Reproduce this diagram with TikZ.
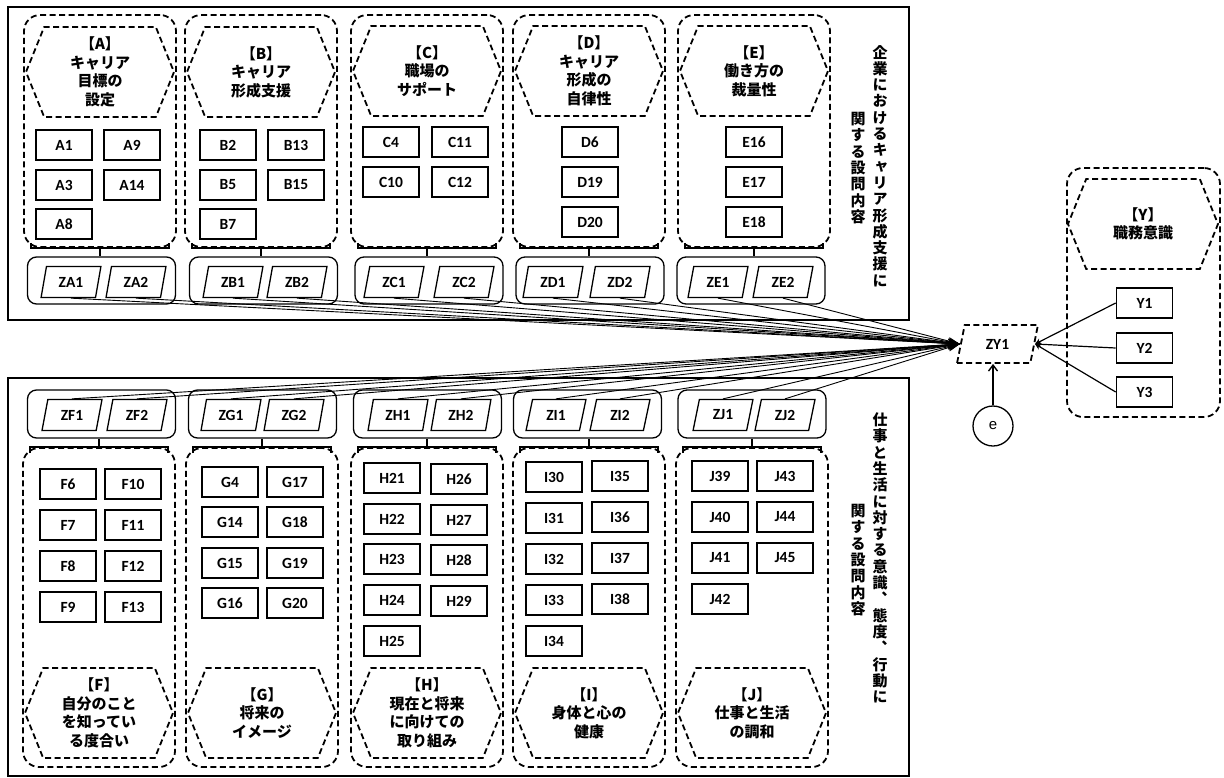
\documentclass[tikz,border=0pt]{standalone}
\usepackage{fontspec}
\setmainfont{Carlito}
\newfontfamily\jp{Noto Sans CJK JP}
\newfontfamily\jpv{Noto Sans CJK JP}[RawFeature=+vert]
\newfontfamily\arl{Liberation Sans}
\usetikzlibrary{arrows.meta,shapes.geometric,shapes.symbols}
\tikzset{
  dsh/.style={line width=1.8pt, dash pattern=on 6pt off 3.5pt},
  frm/.style={line width=1.4pt},
  grp/.style={draw, dsh, rounded corners=16pt, minimum width=152pt, inner sep=0pt},
  hexl/.style={draw, dsh, signal, signal to=east and west, signal pointer angle=136,
      minimum width=148pt, minimum height=90pt, inner sep=0pt, align=center,
      font=\jp\bfseries\fontsize{15}{18.5}\selectfont},
  itm/.style={draw, line width=1.6pt, minimum width=56pt, minimum height=30pt,
      inner sep=0pt, font=\bfseries\fontsize{15.5}{18}\selectfont},
  zbx/.style={draw, line width=1.3pt, rounded corners=9pt, minimum width=148pt, inner sep=0pt},
  zpr/.style={draw, line width=1.3pt, trapezium, trapezium left angle=75,
      trapezium right angle=105, trapezium stretches=true, minimum width=60pt,
      minimum height=31pt, inner sep=0pt, font=\bfseries\fontsize{15.5}{18}\selectfont},
  brk/.style={line width=2.6pt},
  vtx/.style={align=center, inner sep=0pt, font=\jpv\bfseries\fontsize{15}{16.3}\selectfont},
  zarr/.style={-{Stealth[length=12pt,width=8pt]}, line width=0.9pt},
  yarr/.style={-{Stealth[length=6pt,width=6pt]}, line width=1.2pt},
  earr/.style={-{Straight Barb[length=6pt,width=9pt]}, line width=1.4pt},
}

\begin{document}
\begin{tikzpicture}[x=1pt, y=-1pt]
  \useasboundingbox (0,0) rectangle (1224,777);
  \draw[frm] (8,7) rectangle (909,320);
  \draw[frm] (8,378) rectangle (909,776);

  % upper block
  \node[grp, minimum height=232pt] (gA) at (100,131) {};
  \node[hexl] (hA) at (100,72) {【A】\\キャリア\\目標の\\設定};
  \node[itm] (A1) at (64,145) {A1}; \node[itm] (A9) at (132,145) {A9};
  \node[itm] (A3) at (64,185) {A3}; \node[itm] (A14) at (132,185) {A14};
  \node[itm] (A8) at (64,224) {A8};

  \node[grp, minimum height=232pt] (gB) at (261,131) {};
  \node[hexl] (hB) at (261,72) {【B】\\キャリア\\形成支援};
  \node[itm] (B2) at (228,145) {B2}; \node[itm] (B13) at (296,145) {B13};
  \node[itm] (B5) at (228,185) {B5}; \node[itm] (B15) at (296,185) {B15};
  \node[itm] (B7) at (228,224) {B7};

  \node[grp, minimum height=232pt] (gC) at (427,131) {};
  \node[hexl] (hC) at (427,71) {【C】\\職場の\\サポート};
  \node[itm] (C4) at (391,142) {C4}; \node[itm] (C11) at (460,142) {C11};
  \node[itm] (C10) at (391,182) {C10}; \node[itm] (C12) at (460,182) {C12};

  \node[grp, minimum height=232pt] (gD) at (589,131) {};
  \node[hexl] (hD) at (589,71) {【D】\\キャリア\\形成の\\自律性};
  \node[itm] (D6) at (590,142) {D6};
  \node[itm] (D19) at (590,182) {D19};
  \node[itm] (D20) at (590,222) {D20};

  \node[grp, minimum height=232pt] (gE) at (754,131) {};
  \node[hexl] (hE) at (754,71) {【E】\\働き方の\\裁量性};
  \node[itm] (E16) at (754,142) {E16};
  \node[itm] (E17) at (754,182) {E17};
  \node[itm] (E18) at (754,222) {E18};

  \node[zbx, minimum height=47pt] (zA) at (101.5,280.5) {};
  \node[zpr] (ZA1) at (71,282) {ZA1}; \node[zpr] (ZA2) at (136,282) {ZA2};
  \node[zbx, minimum height=47pt] (zB) at (263.5,280.5) {};
  \node[zpr] (ZB1) at (233,282) {ZB1}; \node[zpr] (ZB2) at (297,282) {ZB2};
  \node[zbx, minimum height=47pt] (zC) at (429,280.5) {};
  \node[zpr] (ZC1) at (394,282) {ZC1}; \node[zpr] (ZC2) at (464,282) {ZC2};
  \node[zbx, minimum height=47pt] (zD) at (590,280.5) {};
  \node[zpr] (ZD1) at (553,282) {ZD1}; \node[zpr] (ZD2) at (620,282) {ZD2};
  \node[zbx, minimum height=47pt] (zE) at (751,280.5) {};
  \node[zpr] (ZE1) at (718,282) {ZE1}; \node[zpr] (ZE2) at (783,282) {ZE2};

  \node[vtx] (vt1) at (880,166) {企\\業\\に\\お\\け\\る\\キ\\ャ\\リ\\ア\\形\\成\\支\\援\\に};
  \node[vtx] (vt2) at (858,168) {関\\す\\る\\設\\問\\内\\容};

  % lower block
  \node[zbx, minimum height=48pt] (zF) at (101.5,414) {};
  \node[zpr] (ZF1) at (72,415) {ZF1}; \node[zpr] (ZF2) at (137,415) {ZF2};
  \node[zbx, minimum height=48pt] (zG) at (262.5,414) {};
  \node[zpr] (ZG1) at (231,415) {ZG1}; \node[zpr] (ZG2) at (294,415) {ZG2};
  \node[zbx, minimum height=48pt] (zH) at (427.5,414) {};
  \node[zpr] (ZH1) at (398,415) {ZH1}; \node[zpr] (ZH2) at (461,415) {ZH2};
  \node[zbx, minimum height=48pt] (zI) at (587.5,414) {};
  \node[zpr] (ZI1) at (556,415) {ZI1}; \node[zpr] (ZI2) at (620,415) {ZI2};
  \node[zbx, minimum height=48pt] (zJ) at (752,414) {};
  \node[zpr] (ZJ1) at (723,415) {ZJ1}; \node[zpr] (ZJ2) at (785,415) {ZJ2};

  \node[grp, minimum height=319pt] (gF) at (99,607.5) {};
  \node[itm] (F6) at (68,484) {F6}; \node[itm] (F10) at (133,484) {F10};
  \node[itm] (F7) at (68,525) {F7}; \node[itm] (F11) at (133,525) {F11};
  \node[itm] (F8) at (68,566) {F8}; \node[itm] (F12) at (133,566) {F12};
  \node[itm] (F9) at (68,607) {F9}; \node[itm] (F13) at (133,607) {F13};
  \node[hexl] (hF) at (99,713) {【F】\\自分のこと\\を知ってい\\る度合い};

  \node[grp, minimum height=319pt] (gG) at (262,607.5) {};
  \node[itm] (G4) at (230,482) {G4}; \node[itm] (G17) at (295,482) {G17};
  \node[itm] (G14) at (230,522) {G14}; \node[itm] (G18) at (295,522) {G18};
  \node[itm] (G15) at (230,563) {G15}; \node[itm] (G19) at (295,563) {G19};
  \node[itm] (G16) at (230,603) {G16}; \node[itm] (G20) at (295,603) {G20};
  \node[hexl] (hG) at (262,713) {【G】\\将来の\\イメージ};

  \node[grp, minimum height=319pt] (gH) at (427,607.5) {};
  \node[itm] (H21) at (392,478) {H21}; \node[itm] (H26) at (459,479) {H26};
  \node[itm] (H22) at (392,519) {H22}; \node[itm] (H27) at (459,520) {H27};
  \node[itm] (H23) at (392,559) {H23}; \node[itm] (H28) at (459,560) {H28};
  \node[itm] (H24) at (392,600) {H24}; \node[itm] (H29) at (459,601) {H29};
  \node[itm] (H25) at (392,641) {H25};
  \node[hexl] (hH) at (427,713) {【H】\\現在と将来\\に向けての\\取り組み};

  \node[grp, minimum height=319pt] (gI) at (589,607.5) {};
  \node[itm] (I30) at (554,477) {I30}; \node[itm] (I35) at (620,476) {I35};
  \node[itm] (I31) at (554,518) {I31}; \node[itm] (I36) at (620,517) {I36};
  \node[itm] (I32) at (554,559) {I32}; \node[itm] (I37) at (620,558) {I37};
  \node[itm] (I33) at (554,600) {I33}; \node[itm] (I38) at (620,599) {I38};
  \node[itm] (I34) at (554,641) {I34};
  \node[hexl] (hI) at (589,713) {【I】\\身体と心の\\健康};

  \node[grp, minimum height=319pt] (gJ) at (752,607.5) {};
  \node[itm] (J39) at (720,476) {J39}; \node[itm] (J43) at (785,476) {J43};
  \node[itm] (J40) at (720,517) {J40}; \node[itm] (J44) at (785,517) {J44};
  \node[itm] (J41) at (720,558) {J41}; \node[itm] (J45) at (785,558) {J45};
  \node[itm] (J42) at (720,599) {J42};
  \node[hexl] (hJ) at (752,713) {【J】\\仕事と生活\\の調和};

  \node[vtx] (vb1) at (880,558) {仕\\事\\と\\生\\活\\に\\対\\す\\る\\意\\識\\、\\態\\度\\、\\行\\動\\に};
  \node[vtx] (vb2) at (858,560) {関\\す\\る\\設\\問\\内\\容};

  % brackets from groups to their Z boxes
  \draw[brk] ([xshift=8pt,yshift=5pt]gA.south west) -- ([xshift=8pt]gA.south west) -- ([xshift=-8pt]gA.south east) -- ([xshift=-8pt,yshift=5pt]gA.south east);
  \draw[brk] ([xshift=8pt,yshift=5pt]gB.south west) -- ([xshift=8pt]gB.south west) -- ([xshift=-8pt]gB.south east) -- ([xshift=-8pt,yshift=5pt]gB.south east);
  \draw[brk] ([xshift=8pt,yshift=5pt]gC.south west) -- ([xshift=8pt]gC.south west) -- ([xshift=-8pt]gC.south east) -- ([xshift=-8pt,yshift=5pt]gC.south east);
  \draw[brk] ([xshift=8pt,yshift=5pt]gD.south west) -- ([xshift=8pt]gD.south west) -- ([xshift=-8pt]gD.south east) -- ([xshift=-8pt,yshift=5pt]gD.south east);
  \draw[brk] ([xshift=8pt,yshift=5pt]gE.south west) -- ([xshift=8pt]gE.south west) -- ([xshift=-8pt]gE.south east) -- ([xshift=-8pt,yshift=5pt]gE.south east);
  \draw[brk] (gA.south) -- (gA.south |- zA.north); \draw[brk] (gB.south) -- (gB.south |- zB.north);
  \draw[brk] (gC.south) -- (gC.south |- zC.north); \draw[brk] (gD.south) -- (gD.south |- zD.north);
  \draw[brk] (gE.south) -- (gE.south |- zE.north);
  \draw[brk] ([xshift=8pt,yshift=-6pt]gF.north west) -- ([xshift=8pt]gF.north west) -- ([xshift=-8pt]gF.north east) -- ([xshift=-8pt,yshift=-6pt]gF.north east);
  \draw[brk] ([xshift=8pt,yshift=-6pt]gG.north west) -- ([xshift=8pt]gG.north west) -- ([xshift=-8pt]gG.north east) -- ([xshift=-8pt,yshift=-6pt]gG.north east);
  \draw[brk] ([xshift=8pt,yshift=-6pt]gH.north west) -- ([xshift=8pt]gH.north west) -- ([xshift=-8pt]gH.north east) -- ([xshift=-8pt,yshift=-6pt]gH.north east);
  \draw[brk] ([xshift=8pt,yshift=-6pt]gI.north west) -- ([xshift=8pt]gI.north west) -- ([xshift=-8pt]gI.north east) -- ([xshift=-8pt,yshift=-6pt]gI.north east);
  \draw[brk] ([xshift=8pt,yshift=-6pt]gJ.north west) -- ([xshift=8pt]gJ.north west) -- ([xshift=-8pt]gJ.north east) -- ([xshift=-8pt,yshift=-6pt]gJ.north east);
  \draw[brk] (gF.north) -- (gF.north |- zF.south); \draw[brk] (gG.north) -- (gG.north |- zG.south);
  \draw[brk] (gH.north) -- (gH.north |- zH.south); \draw[brk] (gI.north) -- (gI.north |- zI.south);
  \draw[brk] (gJ.north) -- (gJ.north |- zJ.south);

  % outcome side
  \node[grp, minimum width=153pt, minimum height=249pt] (gY) at (1143.5,292.5) {};
  \node[hexl, minimum width=150pt] (hY) at (1143,224) {【Y】\\職務意識};
  \node[itm] (Y1) at (1144.5,303) {Y1};
  \node[itm] (Y2) at (1144.5,348) {Y2};
  \node[itm] (Y3) at (1144.5,392) {Y3};
  \node[zpr, dsh, minimum width=81pt, minimum height=38pt] (ZY1) at (997.5,344) {ZY1};
  \node[draw, circle, line width=1.3pt, minimum size=40pt, inner sep=0pt, font=\arl\fontsize{15}{18}\selectfont] (e) at (993,426) {e};

  \draw[zarr] (ZA1.south) -- (ZY1.west); \draw[zarr] (ZA2.south) -- (ZY1.west);
  \draw[zarr] (ZB1.south) -- (ZY1.west); \draw[zarr] (ZB2.south) -- (ZY1.west);
  \draw[zarr] (ZC1.south) -- (ZY1.west); \draw[zarr] (ZC2.south) -- (ZY1.west);
  \draw[zarr] (ZD1.south) -- (ZY1.west); \draw[zarr] (ZD2.south) -- (ZY1.west);
  \draw[zarr] (ZE1.south) -- (ZY1.west); \draw[zarr] (ZE2.south) -- (ZY1.west);
  \draw[zarr] (ZF1.north) -- (ZY1.west); \draw[zarr] (ZF2.north) -- (ZY1.west);
  \draw[zarr] (ZG1.north) -- (ZY1.west); \draw[zarr] (ZG2.north) -- (ZY1.west);
  \draw[zarr] (ZH1.north) -- (ZY1.west); \draw[zarr] (ZH2.north) -- (ZY1.west);
  \draw[zarr] (ZI1.north) -- (ZY1.west); \draw[zarr] (ZI2.north) -- (ZY1.west);
  \draw[zarr] (ZJ1.north) -- (ZY1.west); \draw[zarr] (ZJ2.north) -- (ZY1.west);
  \draw[yarr] (Y1.west) -- (ZY1.east);
  \draw[yarr] (Y2.west) -- (ZY1.east);
  \draw[yarr] (Y3.west) -- (ZY1.east);
  \draw[earr] (e.north) -- (e.north |- ZY1.south);
\end{tikzpicture}
\end{document}
